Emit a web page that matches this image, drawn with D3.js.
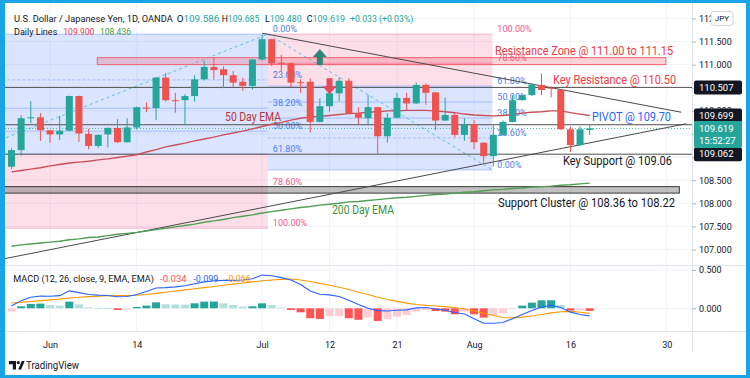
<!DOCTYPE html>
<html><head><meta charset="utf-8">
<script src="https://cdn.jsdelivr.net/npm/d3@7"></script>
<style>
html,body{margin:0;padding:0;background:#fff;}
svg{display:block;font-family:Roboto,"Liberation Sans",Arial,sans-serif;}
</style></head><body>
<svg id="c" width="750" height="378"></svg>
<script>
// ---------------- DATA ----------------
const firstDate = "2021-05-26", lastDate = "2021-09-03";
const open  = [108.79,109.15,109.84,109.86,109.58,109.49,109.57,110.32,109.50,109.24,109.49,109.63,109.32,109.64,110.07,110.06,110.72,110.23,110.23,110.32,110.68,110.95,110.90,110.77,110.63,110.54,111.11,111.55,111.04,111.03,110.62,110.63,109.76,110.10,110.38,110.65,109.95,109.84,110.08,109.45,109.85,110.28,110.16,110.56,110.40,109.79,109.91,109.48,109.71,109.31,109.02,109.48,109.76,110.23,110.34,110.56,110.50,110.45,109.60,109.26,109.586];
const high  = [109.19,109.91,110.21,109.95,109.58,109.89,110.33,110.33,109.61,109.49,109.64,109.82,109.84,110.09,110.18,110.73,110.82,110.39,110.36,110.77,111.08,111.15,110.96,110.86,110.72,111.12,111.64,111.56,111.21,111.04,110.68,110.70,110.27,110.40,110.72,110.70,110.08,110.34,110.09,109.95,110.39,110.39,110.61,110.59,110.41,110.29,109.95,109.84,109.80,109.32,109.69,109.79,110.34,110.35,110.60,110.81,110.53,110.47,109.66,109.66,109.685];
const low   = [108.74,109.03,109.73,109.35,109.31,109.37,109.56,109.33,109.17,109.20,109.21,109.31,109.31,109.60,109.97,109.80,110.20,109.96,109.69,110.20,110.66,110.68,110.49,110.51,110.43,110.46,111.09,110.97,110.85,110.51,110.39,109.53,109.75,109.98,110.21,109.93,109.71,109.71,109.07,109.31,109.84,110.02,110.15,110.13,109.58,109.78,109.43,109.35,109.17,108.88,108.80,109.46,109.75,110.22,110.32,110.34,110.29,109.59,109.11,109.24,109.480];
const close = [109.15,109.84,109.86,109.58,109.49,109.57,110.32,109.51,109.24,109.48,109.63,109.32,109.64,110.08,110.05,110.72,110.23,110.21,110.32,110.68,110.95,110.88,110.77,110.61,110.54,111.11,111.55,111.03,111.02,110.61,110.60,109.76,110.10,110.38,110.65,109.95,109.85,110.08,109.45,109.85,110.28,110.16,110.56,110.39,109.79,109.91,109.48,109.71,109.32,109.02,109.48,109.76,110.23,110.34,110.57,110.45,110.48,109.60,109.26,109.60,109.619];
const ema50 = [108.68,108.71,108.74,108.77,108.81,108.84,108.87,108.89,108.91,108.94,108.96,108.99,109.02,109.05,109.11,109.16,109.22,109.26,109.30,109.35,109.39,109.43,109.48,109.52,109.56,109.61,109.66,109.71,109.75,109.80,109.84,109.87,109.88,109.90,109.92,109.94,109.95,109.97,109.98,110.00,110.00,110.01,110.01,110.01,110.00,109.98,109.96,109.93,109.91,109.90,109.89,109.90,109.92,109.95,109.97,109.98,110.00,110.00,109.96,109.93,109.90];
const ema200 = [107.07,107.10,107.12,107.14,107.16,107.18,107.21,107.23,107.26,107.27,107.30,107.33,107.35,107.37,107.40,107.43,107.46,107.49,107.52,107.55,107.59,107.62,107.65,107.69,107.72,107.75,107.79,107.82,107.85,107.88,107.91,107.93,107.96,107.98,108.00,108.03,108.04,108.06,108.08,108.10,108.12,108.13,108.15,108.17,108.19,108.20,108.22,108.24,108.25,108.27,108.29,108.30,108.32,108.33,108.35,108.36,108.37,108.39,108.40,108.42,108.436];
const macd = [0.03,0.10,0.145,0.161,0.158,0.165,0.228,0.205,0.18,0.172,0.168,0.15,0.155,0.18,0.22,0.265,0.27,0.28,0.295,0.32,0.345,0.36,0.365,0.365,0.37,0.385,0.435,0.425,0.40,0.37,0.31,0.225,0.183,0.175,0.155,0.105,0.05,0.0,-0.03,-0.035,-0.025,-0.02,0.005,0.01,-0.01,-0.025,-0.055,-0.075,-0.135,-0.195,-0.195,-0.185,-0.135,-0.08,-0.028,0.018,0.038,0.01,-0.05,-0.08,-0.099];
const signal = [0.07,0.077,0.088,0.10,0.11,0.12,0.135,0.145,0.152,0.158,0.163,0.165,0.167,0.17,0.18,0.195,0.21,0.225,0.24,0.255,0.27,0.285,0.30,0.315,0.33,0.345,0.36,0.37,0.378,0.382,0.37,0.35,0.325,0.30,0.275,0.245,0.21,0.18,0.145,0.115,0.09,0.068,0.05,0.038,0.03,0.022,0.01,-0.01,-0.035,-0.065,-0.095,-0.12,-0.125,-0.115,-0.10,-0.08,-0.06,-0.045,-0.04,-0.052,-0.066];
const hist = [-0.043,0.026,0.057,0.061,0.043,0.035,0.087,0.052,0.013,0.005,0.003,-0.022,-0.017,0.017,0.035,0.078,0.052,0.050,0.048,0.065,0.087,0.088,0.065,0.043,0.022,0.026,0.065,0.043,0.010,-0.022,-0.052,-0.13,-0.139,-0.104,-0.100,-0.13,-0.15,-0.12,-0.165,-0.14,-0.109,-0.087,-0.043,-0.022,-0.035,-0.043,-0.078,-0.043,-0.078,-0.122,-0.087,-0.065,-0.01,0.035,0.074,0.104,0.105,0.043,-0.030,-0.028,-0.034];
const priceTicks = [107,107.5,108,108.5,109,109.5,110,110.5,111,111.5,112];
const priceTickLabels = [107,107.5,108,108.5,110,111,111.5,112];   // labels not hidden by the value badges
const macdTicks = [0,0.5];
const timeTickDates = ["2021-06-01","2021-06-14","2021-07-01","2021-07-12","2021-07-21","2021-08-02","2021-08-16","2021-08-30"];
const timeTickLabels = ["Jun","14","Jul","12","21","Aug","16","30"];
const keyLevels = [110.507,109.699,109.062];
const resistanceZone = [111.00,111.15];
const supportCluster = [108.22,108.36];
const fibLevels = [0,0.236,0.382,0.5,0.618,0.786,1];
const fibLevelLabels = ["0.00%","23.60%","38.20%","50.00%","61.80%","78.60%","100.00%"];
const fibA = [[-24.3,107.46],[26.6,111.66]];   // start points [bar index, price]
const fibB = [[26.6,111.66],[49.9,108.72]];    // end points
const downTrend = [[26,111.68],[69.5,109.97]];
const upTrend = [[-1,106.79],[70,109.72]];
const resistanceZoneBars = [8.9,67.9];
const supportClusterBars = [-2,69.3];
const arrowMarks = [{i:32,p:111.34,dir:"up"},{i:33,p:110.36,dir:"down"}];
const lastPrice = 109.619, lastTimer = "15:52:27";
const ohlcHeader = [["O","109.586"],["H","109.685"],["L","109.480"],["C","109.619"]];
const changeHeader = "+0.033 (+0.03%)";
const macdHeader = ["-0.034","-0.099","-0.066"];

// ---------------- LAYOUT ----------------
const svg = d3.select("#c");
const PL=5, PR=692, MT=3, MB=265.5, HT=266, HB=331;
const GREEN="#26a69a", RED="#ef5350", TXT="#131722", GRID="#f0f3fa";

const dates = d3.utcDay.range(new Date(firstDate+"T00:00Z"), new Date(lastDate+"T23:00Z")).filter(d=>d.getUTCDay()%6!==0);
const idxOf = s => dates.findIndex(d=>d.toISOString().slice(0,10)===s);

const x = d3.scaleLinear().domain([0,60]).range([11.5,589.7]);
const y = d3.scaleLinear().domain([107,111.5]).range([249.5,41.5]);
const ym = d3.scaleLinear().domain([0,0.5]).range([308.3,270]);

const defs = svg.append("defs");
defs.append("clipPath").attr("id","cm").append("rect").attr("x",PL).attr("y",MT).attr("width",PR-PL).attr("height",MB-MT);
defs.append("clipPath").attr("id","ch").append("rect").attr("x",PL).attr("y",HT).attr("width",PR-PL).attr("height",HB-HT);

// grid
const timeIdx = timeTickDates.map(idxOf);
const g0 = svg.append("g");
g0.selectAll("line.v").data(timeIdx).join("line").attr("x1",d=>x(d)).attr("x2",d=>x(d)).attr("y1",MT).attr("y2",HB).attr("stroke",GRID);
g0.selectAll("line.h").data(priceTicks).join("line").attr("x1",PL).attr("x2",PR).attr("y1",d=>y(d)).attr("y2",d=>y(d)).attr("stroke",GRID).attr("clip-path","url(#cm)");
g0.selectAll("line.m").data(macdTicks).join("line").attr("x1",PL).attr("x2",PR).attr("y1",d=>ym(d)).attr("y2",d=>ym(d)).attr("stroke",GRID);

// main pane
const gm = svg.append("g").attr("clip-path","url(#cm)");

// fib retracements
const fibs = [{a:fibA[0],b:fibB[0]},{a:fibA[1],b:fibB[1]}];
const fibLabelG = svg.append("g");
fibs.forEach(f=>{
  const lp = l => f.b[1] + (f.a[1]-f.b[1])*l;
  const x0 = Math.min(x(f.a[0]),x(f.b[0])), x1 = Math.max(x(f.a[0]),x(f.b[0]));
  for(let j=0;j<fibLevels.length-1;j++){
    const ya=y(lp(fibLevels[j])), yb=y(lp(fibLevels[j+1]));
    gm.append("rect").attr("x",x0).attr("width",x1-x0).attr("y",Math.min(ya,yb)).attr("height",Math.abs(yb-ya))
      .attr("fill", fibLevels[j+1]<=0.618 ? "rgba(41,98,255,0.17)" : "rgba(236,64,122,0.17)");
  }
  fibLevels.forEach((l,j)=>{
    const blue = l<=0.618;
    gm.append("line").attr("x1",x0).attr("x2",x1).attr("y1",y(lp(l))).attr("y2",y(lp(l)))
      .attr("stroke", blue ? "rgba(41,98,255,0.3)" : "rgba(236,64,122,0.35)").attr("stroke-dasharray", l===0.236?"3,2":null);
    fibLabelG.append("text").attr("x",x1+5).attr("y",y(lp(l))-2).attr("font-size",9).attr("fill", blue?"#4f7fe6":"#ee5a8c").text(fibLevelLabels[j]);
  });
  gm.append("line").attr("x1",x(f.a[0])).attr("y1",y(f.a[1])).attr("x2",x(f.b[0])).attr("y2",y(f.b[1]))
    .attr("stroke","#5cc0e8").attr("stroke-dasharray","3,3");
});
gm.node().appendChild(fibLabelG.node());

// key horizontal lines
gm.selectAll("line.k").data(keyLevels).join("line").attr("x1",PL).attr("x2",PR+4).attr("y1",d=>y(d)).attr("y2",d=>y(d)).attr("stroke","#505050");
// current price line
gm.append("line").attr("x1",PL).attr("x2",PR).attr("y1",y(lastPrice)).attr("y2",y(lastPrice)).attr("stroke",GREEN).attr("stroke-dasharray","1,2").attr("opacity",0.8);

// zones
gm.append("rect").attr("x",x(resistanceZoneBars[0])).attr("width",x(resistanceZoneBars[1])-x(resistanceZoneBars[0]))
  .attr("y",y(resistanceZone[1])).attr("height",y(resistanceZone[0])-y(resistanceZone[1]))
  .attr("fill","rgba(242,54,69,0.22)").attr("stroke","#f0606c");
gm.append("rect").attr("x",x(supportClusterBars[0])).attr("width",x(supportClusterBars[1])-x(supportClusterBars[0]))
  .attr("y",y(supportCluster[1])).attr("height",y(supportCluster[0])-y(supportCluster[1]))
  .attr("fill","rgba(90,90,90,0.38)").attr("stroke","#3a3a3a");

// trend lines
const tl = d3.line().x(d=>x(d[0])).y(d=>y(d[1]));
[downTrend,upTrend].forEach(t=>gm.append("path").attr("d",tl(t)).attr("fill","none").attr("stroke","#4a4a4a"));

// EMAs
const ln = d3.line().x((d,i)=>x(i)).y(d=>y(d));
gm.append("path").attr("d",ln(ema200)).attr("fill","none").attr("stroke","#4f9f54").attr("stroke-width",1.4);
gm.append("path").attr("d",ln(ema50)).attr("fill","none").attr("stroke","#c8505a").attr("stroke-width",1.4);

// candles
const cd = open.map((o,i)=>({i,o,h:high[i],l:low[i],c:close[i]}));
const cg = gm.append("g");
cg.selectAll("line").data(cd).join("line").attr("x1",d=>x(d.i)).attr("x2",d=>x(d.i)).attr("y1",d=>y(d.h)).attr("y2",d=>y(d.l))
  .attr("stroke",d=>d.c>=d.o?GREEN:RED);
cg.selectAll("rect").data(cd).join("rect").attr("x",d=>x(d.i)-3.5).attr("width",7)
  .attr("y",d=>y(Math.max(d.o,d.c))).attr("height",d=>Math.max(1,Math.abs(y(d.o)-y(d.c))))
  .attr("fill",d=>d.c>=d.o?GREEN:RED);

// arrows
arrowMarks.forEach(a=>{
  const cx=x(a.i), ty=y(a.p), s=a.dir==="up"?1:-1;
  const p=d3.path();
  p.moveTo(cx,ty); p.lineTo(cx+7,ty+8*s); p.lineTo(cx+3,ty+8*s); p.lineTo(cx+3,ty+16*s);
  p.lineTo(cx-3,ty+16*s); p.lineTo(cx-3,ty+8*s); p.lineTo(cx-7,ty+8*s); p.closePath();
  gm.append("path").attr("d",p.toString()).attr("fill",a.dir==="up"?"#2f8577":"#e2495a");
});

// annotations
const ann = [
 {t:"Resistance Zone @ 111.00 to 111.15", i:50.18, p:111.21, w:178, c:"#ef3b46"},
 {t:"Key Resistance @ 110.50", i:56.2, p:110.58, w:123, c:"#ef3b46"},
 {t:"PIVOT @ 109.70", i:60.24, p:109.78, w:79, c:"#2962ff"},
 {t:"Key Support @ 109.06", i:57.23, p:108.83, w:109, c:TXT},
 {t:"Support Cluster @ 108.36 to 108.22", i:50.49, p:107.93, w:177, c:TXT},
 {t:"200 Day EMA", i:33.26, p:107.77, w:62, c:"#3c8f40"},
 {t:"50 Day EMA", i:22.16, p:109.78, w:56, c:"#b8323a"}
];
ann.forEach(a=>gm.append("text").attr("x",x(a.i)).attr("y",y(a.p)).attr("font-size",12).attr("fill",a.c)
  .attr("textLength",a.w).attr("lengthAdjust","spacingAndGlyphs").text(a.t));

// MACD pane
const gh = svg.append("g").attr("clip-path","url(#ch)");
gh.selectAll("rect").data(hist).join("rect")
  .attr("x",(d,i)=>x(i)-4).attr("width",8)
  .attr("y",d=>Math.min(ym(d),ym(0))).attr("height",d=>Math.max(0.8,Math.abs(ym(d)-ym(0))))
  .attr("fill",(d,i)=>{const pv=i>0?hist[i-1]:d-0.01; return d>=0?(d>=pv?"#26a69a":"#b2dfdb"):(d<pv?"#ff5252":"#ffcdd2");});
const lm = d3.line().x((d,i)=>x(i)).y(d=>ym(d));
gh.append("path").attr("d",lm(signal)).attr("fill","none").attr("stroke","#ff9800").attr("stroke-width",1.1);
gh.append("path").attr("d",lm(macd)).attr("fill","none").attr("stroke","#2962ff").attr("stroke-width",1.1);

// separators & axis lines
svg.append("line").attr("x1",PL).attr("x2",746).attr("y1",265.5).attr("y2",265.5).attr("stroke","#e0e3eb");
svg.append("line").attr("x1",PL).attr("x2",746).attr("y1",331.5).attr("y2",331.5).attr("stroke","#e0e3eb");
svg.append("line").attr("x1",PR+0.5).attr("x2",PR+0.5).attr("y1",MT).attr("y2",352).attr("stroke","#e0e3eb");

// right price axis
const ax = svg.append("g").attr("transform",`translate(${PR},0)`)
  .call(d3.axisRight(y).tickValues(priceTicks).tickFormat(d=>priceTickLabels.includes(d)?d3.format(".3f")(d):"").tickSize(4).tickPadding(3));
ax.select(".domain").remove();
ax.selectAll("line").attr("stroke","#b2b5be");
ax.selectAll("text").attr("font-size",9).attr("fill",TXT).attr("font-family","Roboto,Arial,sans-serif");
const axm = svg.append("g").attr("transform",`translate(${PR},0)`)
  .call(d3.axisRight(ym).tickValues(macdTicks).tickFormat(d3.format(".3f")).tickSize(4).tickPadding(3));
axm.select(".domain").remove();
axm.selectAll("line").attr("stroke","#b2b5be");
axm.selectAll("text").attr("font-size",9).attr("fill",TXT).attr("font-family","Roboto,Arial,sans-serif");

// price labels on axis
const boxY = [y(keyLevels[0]), y(lastPrice)-13, y(keyLevels[2])];
keyLevels.forEach((v,j)=>{
  svg.append("rect").attr("x",PR+2).attr("y",boxY[j]-7).attr("width",48).attr("height",14).attr("rx",2).attr("fill","#131722");
  svg.append("text").attr("x",PR+7).attr("y",boxY[j]+3.3).attr("font-size",9.5).attr("fill","#fff").text(d3.format(".3f")(v));
});
svg.append("rect").attr("x",PR+2).attr("y",y(lastPrice)-7.5).attr("width",48).attr("height",27).attr("rx",2).attr("fill",GREEN);
svg.append("text").attr("x",PR+7).attr("y",y(lastPrice)+3.3).attr("font-size",9.5).attr("fill","#fff").text(d3.format(".3f")(lastPrice));
svg.append("text").attr("x",PR+7).attr("y",y(lastPrice)+15.3).attr("font-size",9.5).attr("fill","#fff").text(lastTimer);
// JPY badge
svg.append("rect").attr("x",711).attr("y",y(112)-7).attr("width",22).attr("height",14).attr("rx",3).attr("fill","#fff").attr("stroke","#d1d4dc");
svg.append("text").attr("x",722).attr("y",y(112)+3).attr("text-anchor","middle").attr("font-size",8).attr("fill",TXT).text("JPY");

// time axis
const tx = svg.append("g").attr("transform",`translate(0,${HB})`)
  .call(d3.axisBottom(x).tickValues(timeIdx).tickFormat((d,i)=>timeTickLabels[i]).tickSize(0).tickPadding(11));
tx.select(".domain").remove();
tx.selectAll("text").attr("font-size",9).attr("fill",TXT).attr("font-family","Roboto,Arial,sans-serif");

// header texts
const hdr = svg.append("g").attr("font-size",9);
hdr.append("text").attr("x",14).attr("y",22).attr("fill",TXT).attr("textLength",158.7).attr("lengthAdjust","spacingAndGlyphs").text("U.S. Dollar / Japanese Yen, 1D, OANDA");
const ohlcX=[176.7,221.7,265,306.7];
ohlcHeader.forEach((o,j)=>{
  const t=hdr.append("text").attr("x",ohlcX[j]).attr("y",22).attr("textLength",j===0?42.6:(j===1?37.6:(j===2?36.7:38.3))).attr("lengthAdjust","spacingAndGlyphs");
  t.append("tspan").attr("fill",TXT).text(o[0]);
  t.append("tspan").attr("fill",GREEN).text(o[1]);
});
hdr.append("text").attr("x",350).attr("y",22).attr("fill",GREEN).attr("textLength",63.3).attr("lengthAdjust","spacingAndGlyphs").text(changeHeader);
hdr.append("text").attr("x",14).attr("y",35).attr("fill",TXT).attr("textLength",43.3).attr("lengthAdjust","spacingAndGlyphs").text("Daily Lines");
hdr.append("text").attr("x",63.3).attr("y",35).attr("fill","#e5404a").attr("textLength",31).attr("lengthAdjust","spacingAndGlyphs").text(d3.format(".3f")(ema50[ema50.length-1]));
hdr.append("text").attr("x",100).attr("y",35).attr("fill","#43a047").attr("textLength",31).attr("lengthAdjust","spacingAndGlyphs").text(d3.format(".3f")(ema200[ema200.length-1]));
hdr.append("text").attr("x",13.3).attr("y",282.3).attr("fill",TXT).attr("textLength",140.7).attr("lengthAdjust","spacingAndGlyphs").text("MACD (12, 26, close, 9, EMA, EMA)");
const mhx=[160,193.3,226], mhc=["#ff5252","#2962ff","#ff9800"], mhw=[26.7,25,24.7];
macdHeader.forEach((m,j)=>hdr.append("text").attr("x",mhx[j]).attr("y",282.3).attr("fill",mhc[j]).attr("textLength",mhw[j]).attr("lengthAdjust","spacingAndGlyphs").text(m));

// TradingView logo
const lg = svg.append("g").attr("fill",TXT);
lg.append("path").attr("d","M9,361 h7 v8.5 h-3.2 v-5.3 h-3.8 z");
lg.append("circle").attr("cx",18.3).attr("cy",362.6).attr("r",1.6);
lg.append("path").attr("d","M18.2,369.5 l3.6,-8.5 h2.9 l-3.6,8.5 z");
svg.append("text").attr("x",26).attr("y",369).attr("font-size",10).attr("fill",TXT).attr("textLength",53).attr("lengthAdjust","spacingAndGlyphs").text("TradingView");

// frame
const fc="#19a4e6";
svg.append("rect").attr("x",0).attr("y",0).attr("width",5).attr("height",378).attr("fill",fc);
svg.append("rect").attr("x",746).attr("y",0).attr("width",4).attr("height",378).attr("fill",fc);
svg.append("rect").attr("x",0).attr("y",0).attr("width",750).attr("height",3).attr("fill",fc);
svg.append("rect").attr("x",0).attr("y",375).attr("width",750).attr("height",3).attr("fill",fc);
</script>
</body></html>
